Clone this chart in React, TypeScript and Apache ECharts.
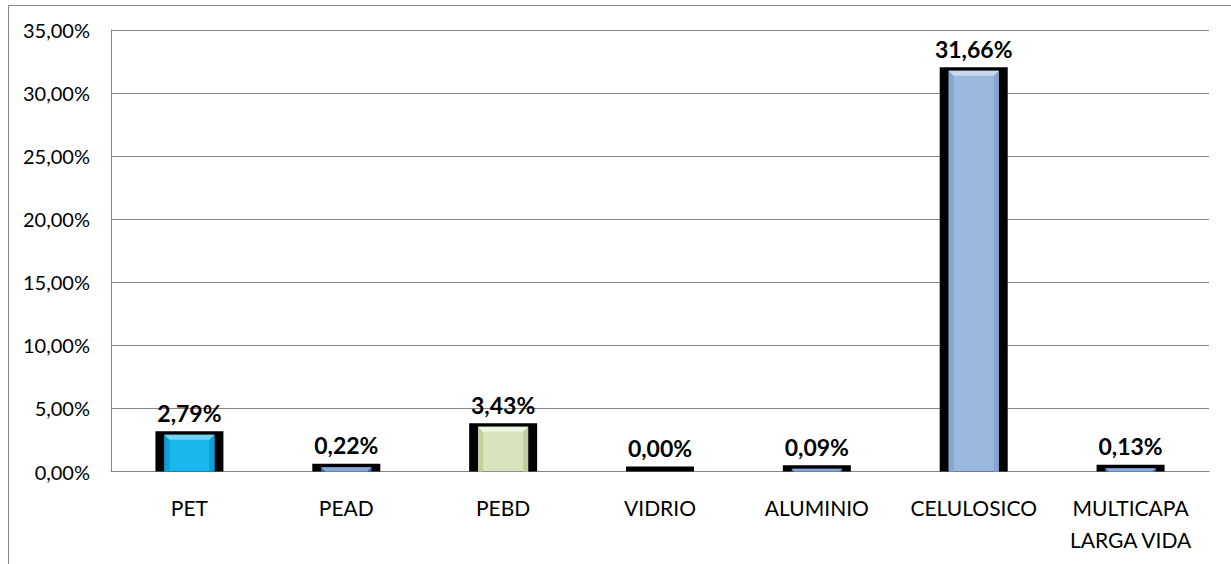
import React, { useEffect, useRef } from "react";
import * as echarts from "echarts";

const categories = ["PET", "PEAD", "PEBD", "VIDRIO", "ALUMINIO", "CELULOSICO", "MULTICAPA\nLARGA VIDA"];
const values = [2.79, 0.22, 3.43, 0.0, 0.09, 31.66, 0.13];
const baseColors = ["#1AB6EE", "#4A7EBF", "#D7E4BD", "#4A7EBF", "#4A7EBF", "#9BB9DE", "#4A7EBF"];
const topColors = ["#74D4F6", "#86A9D6", "#EEF4E2", "#86A9D6", "#86A9D6", "#C9DAEF", "#86A9D6"];
const sideColors = ["#0C9FD6", "#3D6DA9", "#C0D19F", "#3D6DA9", "#3D6DA9", "#86A6CF", "#3D6DA9"];

const fmt = (v: number) => v.toFixed(2).replace(".", ",") + "%";
const FONT = "Lato, 'Open Sans', sans-serif";

export default function App() {
  const ref = useRef<HTMLDivElement>(null);
  useEffect(() => {
    if (!ref.current) return;
    const chart = echarts.init(ref.current, undefined, { renderer: "svg" });

    const renderItem = (params: any, api: any) => {
      const i = params.dataIndex;
      const v = api.value(1);
      const [cx, vt] = api.coord([api.value(0), v]);
      const base = api.coord([api.value(0), 0])[1];
      const outerHalf = 34;
      const innerHalf = 25;
      const outerTop = Math.min(vt - 5, base);
      const innerTop = vt - 1.5;
      const children: any[] = [
        {
          type: "rect",
          shape: { x: cx - outerHalf, y: outerTop, width: outerHalf * 2, height: base - outerTop },
          style: { fill: "#000" },
        },
      ];
      const h = base - innerTop;
      if (h >= 2) {
        const l = cx - innerHalf;
        const r = cx + innerHalf;
        const b = Math.min(5, h);
        children.push({
          type: "rect",
          shape: { x: l, y: innerTop, width: r - l, height: h },
          style: { fill: baseColors[i] },
        });
        children.push({
          type: "polygon",
          shape: { points: [[l, innerTop], [l + b, innerTop + b], [l + b, base], [l, base]] },
          style: { fill: sideColors[i] },
        });
        children.push({
          type: "polygon",
          shape: { points: [[r, innerTop], [r - b, innerTop + b], [r - b, base], [r, base]] },
          style: { fill: sideColors[i] },
        });
        children.push({
          type: "polygon",
          shape: { points: [[l, innerTop], [r, innerTop], [r - b, innerTop + b], [l + b, innerTop + b]] },
          style: { fill: topColors[i] },
        });
      }
      children.push({
        type: "text",
        style: {
          text: fmt(v),
          x: cx,
          y: vt - 12,
          align: "center",
          verticalAlign: "bottom",
          fill: "#000",
          fontFamily: FONT,
          fontWeight: "bold",
          fontSize: 23,
        },
      });
      return { type: "group", children };
    };

    chart.setOption({
      animation: false,
      backgroundColor: "#ffffff",
      graphic: [
        {
          type: "rect",
          shape: { x: 8.5, y: 5.5, width: 1400, height: 700 },
          style: { fill: "none", stroke: "#868686", lineWidth: 1 },
          silent: true,
          z: -10,
        },
      ],
      grid: { left: 111, top: 30, width: 1098, height: 441.5 },
      xAxis: {
        type: "category",
        data: categories,
        axisLine: { show: true, lineStyle: { color: "#868686", width: 1 } },
        axisTick: { show: false },
        axisLabel: {
          interval: 0,
          color: "#000",
          fontFamily: FONT,
          fontSize: 21,
          lineHeight: 32,
          margin: 20,
        },
      },
      yAxis: {
        type: "value",
        min: 0,
        max: 35,
        interval: 5,
        axisLine: { show: true, lineStyle: { color: "#868686", width: 1 } },
        axisTick: { show: false },
        splitLine: { show: true, lineStyle: { color: "#868686", width: 1 } },
        axisLabel: {
          color: "#000",
          fontFamily: FONT,
          fontSize: 20,
          margin: 21,
          formatter: (v: number) => fmt(v),
        },
      },
      series: [
        {
          type: "custom",
          renderItem,
          encode: { x: 0, y: 1 },
          data: values.map((v, i) => [i, v]),
          z: 3,
        },
      ],
    });
    return () => chart.dispose();
  }, []);
  return (
    <div
      ref={ref}
      style={{ position: "fixed", left: 0, top: 0, width: 1231, height: 564 }}
    />
  );
}
